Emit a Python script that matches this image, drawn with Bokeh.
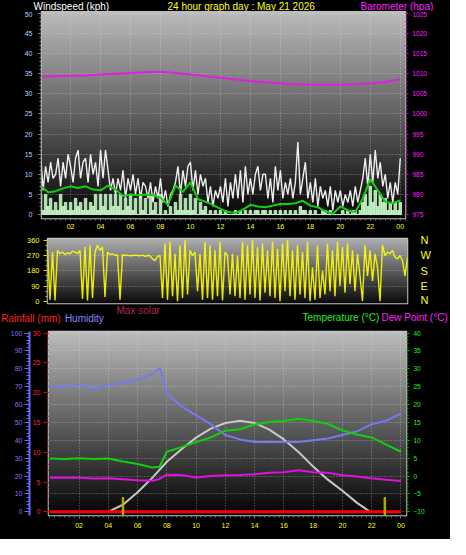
import numpy as np
from bokeh.plotting import figure
from bokeh.models import Range1d, LinearAxis, FixedTicker, Label, Grid
from bokeh.layouts import column, row
from bokeh.embed import file_html
from bokeh.resources import INLINE

FONT = "Liberation Sans"

# ---------------- data ----------------
hour_ticks = [2, 4, 6, 8, 10, 12, 14, 16, 18, 20, 22, 24]
hour_labels = ["02", "04", "06", "08", "10", "12", "14", "16", "18", "20", "22", "00"]

wind_ticks = [0, 5, 10, 15, 20, 25, 30, 35, 40, 45, 50]
baro_ticks = [975, 980, 985, 990, 995, 1000, 1005, 1010, 1015, 1020, 1025]
dir_ticks = [0, 90, 180, 270, 360]
dir_letters = ["N", "E", "S", "W", "N"]
hum_ticks = [0, 10, 20, 30, 40, 50, 60, 70, 80, 90, 100]
rain_ticks = [0, 5, 10, 15, 20, 25, 30]
temp_ticks = [-10, -5, 0, 5, 10, 15, 20, 25, 30, 35, 40]

# wind gust (kph), 10-minute samples
gust = [15, 6, 12, 8, 13, 9,  10, 14, 7, 13, 9, 15,  12, 8, 14, 16, 9, 13,
        14, 8, 15, 10, 13, 7,  16, 9, 16, 11, 6, 9,  5, 9, 6, 11, 4, 9,
        6, 10, 5, 9, 4, 8,  7, 4, 8, 3, 7, 4,  9, 3, 6, 2, 5, 6,
        8, 12, 5, 11, 7, 12,  13, 6, 11, 5, 10, 7,  9, 3, 7, 2, 6, 4,
        7, 3, 9, 2, 8, 4,  10, 4, 11, 3, 12, 5,  9, 5, 10, 12, 6, 10,
        10, 4, 9, 3, 12, 6,  11, 4, 8, 5, 9, 4,  8, 18, 5, 9, 13, 4,
        8, 3, 9, 2, 7, 4,  6, 2, 7, 1, 6, 3,  6, 2, 5, 3, 6, 2,
        7, 3, 6, 9, 14, 7,  15, 8, 16, 9, 13, 7,  10, 4, 8, 3, 8, 5,  14]
# wind speed (kph), 10-minute samples
wind = [5, 1, 5, 2, 4, 1,  3, 1, 5, 2, 3, 1,  3, 1, 4, 2, 3, 1,
        4, 1, 3, 2, 5, 1,  5, 2, 5, 1, 5, 2,  5, 2, 5, 1, 4, 2,
        5, 1, 4, 0, 5, 1,  4, 0, 5, 1, 3, 0,  5, 0, 1, 0, 2, 0,
        3, 1, 5, 1, 4, 1,  5, 1, 4, 0, 3, 1,  2, 0, 1, 0, 1, 0,
        1, 0, 1, 0, 0, 0,  1, 0, 1, 0, 1, 0,  1, 0, 1, 1, 0, 1,
        1, 0, 1, 0, 1, 0,  1, 0, 1, 0, 1, 0,  1, 0, 2, 1, 1, 0,
        1, 0, 1, 0, 0, 1,  1, 0, 1, 0, 0, 0,  0, 1, 0, 1, 0, 1,
        1, 0, 1, 3, 5, 2,  7, 3, 6, 2, 5, 3,  4, 1, 3, 1, 3, 1,  3]
# average wind (kph), half-hourly
avg_wind = [7.2, 5.5, 5.8, 6.5, 7.0, 6.6, 7.0, 6.2, 6.0, 7.2, 6.2, 4.6, 5.0, 4.8,
            5.0, 4.8, 4.2, 2.4, 7.2, 5.6, 8.0, 3.8, 3.2, 2.4, 1.4, 0.6, 0.4, 1.2,
            2.4, 2.0, 1.8, 2.2, 2.6, 2.6, 2.8, 3.4, 2.2, 1.8, 0.8, 0.2, 2.0, 1.0,
            0.6, 4.0, 8.8, 6.0, 3.2, 2.8, 3.5]
# barometer (hPa), hourly
baro = [1009.3, 1009.4, 1009.5, 1009.6, 1009.8, 1010.0, 1010.2, 1010.4, 1010.5,
        1010.2, 1009.8, 1009.4, 1009.0, 1008.6, 1008.2, 1007.9, 1007.6, 1007.4,
        1007.3, 1007.3, 1007.3, 1007.4, 1007.6, 1008.0, 1008.6]
# wind direction (deg), 10-minute samples
direction = [300, 10, 290, 5, 300, 280,  290, 275, 285, 280, 295, 290,
             280, 300, 15, 320, 5, 330,  20, 290, 330, 300, 320, 25,
             290, 275, 280, 270, 275, 10,  275, 270, 272, 268, 270, 272,
             270, 268, 272, 265, 270, 268,  250, 240, 265, 270, 20, 340,
             10, 350, 30, 280, 0, 330,  20, 360, 40, 300, 270, 290,
             60, 280, 10, 350, 20, 330,  10, 300, 30, 350, 5, 290,
             270, 40, 280, 30, 270, 20,  350, 10, 330, 40, 360, 20,
             320, 5, 340, 50, 300, 30,  350, 20, 310, 0, 340, 60,
             360, 30, 300, 10, 330, 40,  290, 20, 350, 0, 200, 10,
             330, 20, 180, 40, 340, 60,  300, 30, 350, 90, 320, 50,
             340, 100, 300, 60, 280, 150,  0, 330, 150, 300, 120, 280,
             200, 0, 330, 270, 290, 280,  300, 260, 250, 270, 240, 150,  260]

th_hours = [0, 1, 2, 3, 4, 5, 6, 7, 7.5, 8, 9, 10, 11, 12, 13, 14, 15, 16, 17, 18,
            19, 20, 21, 22, 23, 24]
humidity = [70, 70, 71, 69, 71, 72, 74, 77, 80.5, 66, 59, 54, 49, 43, 40.5, 39, 39,
            39, 39, 40, 41, 43, 45, 49, 51, 55]
temperature = [4.9, 4.8, 5.0, 4.8, 4.9, 4.1, 3.4, 2.4, 2.6, 6.8, 8.1, 9.5, 10.8,
               12.7, 13.1, 14.4, 15.1, 15.4, 16.0, 15.4, 14.6, 12.8, 11.6, 10.8, 8.8, 6.8]
dew_point = [-0.5, -0.4, -0.5, -0.7, -0.6, -0.9, -1.2, -1.3, -0.8, 0.4, 0.3, -0.4,
             0.0, 0.2, 0.3, 0.5, 0.9, 1.1, 1.6, 1.1, 0.9, 0.2, -0.1, -0.6, -1.0, -1.4]
solar_hours = [4, 5, 6, 7, 8, 9, 10, 11, 12, 13, 14, 15, 16, 17, 18, 19, 20, 21, 21.9]
max_solar = [0, 4, 11, 19, 28, 35, 41.5, 46.5, 49.7, 51, 49.7, 46, 40.5, 33.5, 25.3,
             18, 11.8, 5, 0]
rain_hours = [0, 24]
rainfall = [0, 0]
sun_marks = [5.0, 22.9]
sun_mark_height = [8, 8]

t10 = [i / 6 for i in range(len(gust))]
t10w = [i / 6 for i in range(len(wind))]
t10d = [i / 6 for i in range(len(direction))]
t30 = [i / 2 for i in range(len(avg_wind))]
t60 = [i for i in range(len(baro))]

overrides = {t: l for t, l in zip(hour_ticks, hour_labels)}


# ---------------- helpers ----------------
def gradient(p, top=188, bottom=4, n=220):
    v = np.linspace(bottom, top, n).astype(np.uint8)
    img = np.zeros((n, 1), dtype=np.uint32)
    view = img.view(dtype=np.uint8).reshape((n, 1, 4))
    view[:, 0, 0] = v
    view[:, 0, 1] = v
    view[:, 0, 2] = v
    view[:, 0, 3] = 255
    xr, yr = p.x_range, p.y_range
    p.image_rgba(image=[img], x=xr.start, y=yr.start, dw=xr.end - xr.start,
                 dh=yr.end - yr.start, level="image")


def style_axis(ax, color, size, tick_color, out, standoff, minor_color=None, minor_out=2):
    ax.axis_line_color = None
    ax.major_label_text_color = color
    ax.major_label_text_font = FONT
    ax.major_label_text_font_size = size
    ax.major_tick_line_color = tick_color
    ax.major_tick_out = out
    ax.major_tick_in = 0
    ax.minor_tick_line_color = minor_color
    ax.minor_tick_out = minor_out
    ax.minor_tick_in = 0
    ax.major_label_standoff = standoff


def grid(p, dim, ticks):
    g = Grid(dimension=dim, ticker=FixedTicker(ticks=ticks), grid_line_color="#e8e8e8",
             grid_line_alpha=0.45, grid_line_dash="1 2", grid_line_width=1)
    p.add_layout(g)


def text(p, s, x, y, color, size, align="left"):
    # x, y in pixels from the bottom-left corner of the (full-canvas) frame
    p.add_layout(Label(x=x, y=y, x_units="screen", y_units="screen", text=s,
                       text_color=color, text_font=FONT, text_font_size=size,
                       text_align=align, text_baseline="middle"))


def make_fig(w, h, xr, yr, left, right, top, bottom, outline="#c4c4c4"):
    p = figure(width=w, height=h, x_range=xr, y_range=yr, output_backend="svg",
               toolbar_location=None, x_axis_location=None, y_axis_location=None,
               min_border_left=left, min_border_right=right, min_border_top=top,
               min_border_bottom=bottom, background_fill_color="black",
               border_fill_color="black", outline_line_color=outline,
               outline_line_width=1.5)
    p.grid.visible = False
    return p


minor_hours = [i / 3 for i in range(0, 74)]

# ---------------- title row ----------------
ft = make_fig(450, 11, Range1d(0, 1), Range1d(0, 1), 0, 0, 0, 0, outline=None)
text(ft, "Windspeed (kph)", 33, 6, "white", "10px")
text(ft, "24 hour graph day : May 21 2026", 167, 6, "#ffff20", "10px")
text(ft, "Barometer (hpa)", 360, 6, "#ff20ff", "10px")

# ---------------- panel 1: wind / barometer ----------------
f1 = make_fig(450, 221, Range1d(0.06, 24.35), Range1d(-1, 50.5), 41, 45, 0, 14)
f1.extra_y_ranges = {"baro": Range1d(974, 1025.5)}
gradient(f1)
grid(f1, 0, hour_ticks)
grid(f1, 1, wind_ticks)

ax = LinearAxis(ticker=FixedTicker(ticks=wind_ticks, minor_ticks=list(range(0, 51))))
style_axis(ax, "#b8d4ff", "7px", "#9a9a9a", 3, 6, "#8a8a8a", 2)
f1.add_layout(ax, "left")
ax = LinearAxis(y_range_name="baro",
                ticker=FixedTicker(ticks=baro_ticks, minor_ticks=list(range(975, 1026))))
style_axis(ax, "#ff20ff", "6.5px", "#e000e0", 3, 4, "#c000c0", 2)
f1.add_layout(ax, "right")
ax = LinearAxis(ticker=FixedTicker(ticks=hour_ticks, minor_ticks=minor_hours),
                major_label_overrides=overrides)
style_axis(ax, "#ffff20", "7px", "#8a8a8a", 2, 3, "#707070", 2)
f1.add_layout(ax, "below")

f1.vbar(x=t10w, top=wind, width=1 / 6, bottom=0, color="#c8f8c8", alpha=0.88)
f1.line(t10, gust, line_color="white", line_width=1.4, alpha=0.92)
f1.line(t30, avg_wind, line_color="#10d010", line_width=2)
f1.line(t60, baro, y_range_name="baro", line_color="#e020e0", line_width=2)

# ---------------- panel 2: wind direction ----------------
f2 = make_fig(450, 73, Range1d(0, 24), Range1d(-13, 370), 47, 43, 6, 2)
f2.extra_y_ranges = {"dir2": Range1d(-13, 370)}
gradient(f2, top=175, bottom=10)
grid(f2, 1, [90, 180, 270])
ax = LinearAxis(ticker=FixedTicker(ticks=dir_ticks, minor_ticks=list(range(0, 361, 30))))
style_axis(ax, "#ffff20", "7.5px", "#e0e000", 4, 4, "#c8c800", 2)
f2.add_layout(ax, "left")
ax = LinearAxis(y_range_name="dir2", ticker=FixedTicker(ticks=dir_ticks),
                major_label_overrides={t: l for t, l in zip(dir_ticks, dir_letters)})
style_axis(ax, "#ffff20", "11px", None, 0, 13, None, 0)
f2.add_layout(ax, "right")
f2.line(t10d, direction, line_color="#ffff00", line_width=1.4, alpha=0.9)

# ---------------- legend row ----------------
fl = make_fig(450, 19, Range1d(0, 1), Range1d(0, 1), 0, 0, 0, 0, outline=None)
text(fl, "Rainfall (mm)", 0.7, 6.4, "#ff2020", "10px")
text(fl, "Humidity", 64.4, 6.4, "#8888ff", "10px")
text(fl, "Max solar", 116, 13.6, "#b0284c", "10px")
text(fl, "Temperature (\u00b0C)", 302, 6.6, "#20f020", "10px")
text(fl, "Dew Point (\u00b0C)", 381, 6.6, "#ff20ff", "10px")

# ---------------- panel 3: temperature / humidity ----------------
f3 = make_fig(450, 215, Range1d(-0.09, 24.38), Range1d(-2.05, 100.85), 48, 44, 7, 24)
f3.extra_y_ranges = {"rain": Range1d(-0.615, 30.255), "temp": Range1d(-11.025, 40.425)}
gradient(f3)
grid(f3, 0, hour_ticks)
grid(f3, 1, hum_ticks)

ax = LinearAxis(y_range_name="rain",
                ticker=FixedTicker(ticks=rain_ticks, minor_ticks=list(range(0, 31))))
style_axis(ax, "#ff2020", "7px", "#e00000", 5, 3, "#b00000", 2)
f3.add_layout(ax, "left")
ax = LinearAxis(ticker=FixedTicker(ticks=hum_ticks, minor_ticks=list(range(0, 101, 2))))
style_axis(ax, "#7878ff", "7px", "#6a6aff", 5, 2, "#6a6aff", 3)
ax.axis_line_color = "#6a6aff"
ax.axis_line_width = 2
f3.add_layout(ax, "left")
ax = LinearAxis(y_range_name="temp",
                ticker=FixedTicker(ticks=temp_ticks, minor_ticks=list(range(-10, 41))))
style_axis(ax, "#20f020", "6.5px", "#00d000", 3, 4, "#00b000", 2)
f3.add_layout(ax, "right")
ax = LinearAxis(ticker=FixedTicker(ticks=hour_ticks, minor_ticks=minor_hours),
                major_label_overrides=overrides)
style_axis(ax, "#ffff20", "7px", "#8a8a8a", 3, 4, "#707070", 2)
f3.add_layout(ax, "below")

f3.line(solar_hours, max_solar, line_color="#c8c8c8", line_width=2)
f3.line(th_hours, humidity, line_color="#7878f0", line_width=2)
f3.line(th_hours, temperature, y_range_name="temp", line_color="#10d010", line_width=2)
f3.line(th_hours, dew_point, y_range_name="temp", line_color="#e010e0", line_width=2)
f3.line(rain_hours, rainfall, y_range_name="rain", line_color="#ff0000", line_width=3)
f3.vbar(x=sun_marks, top=sun_mark_height, bottom=-2.05, width=0.1, color="#b8b000")

rows = [row(f, spacing=0, styles={"background-color": "black"})
        for f in (ft, f1, f2, fl, f3)]
layout = column(*rows, spacing=0, styles={"background-color": "black"})
open("out.html", "w").write(file_html(layout, INLINE))
